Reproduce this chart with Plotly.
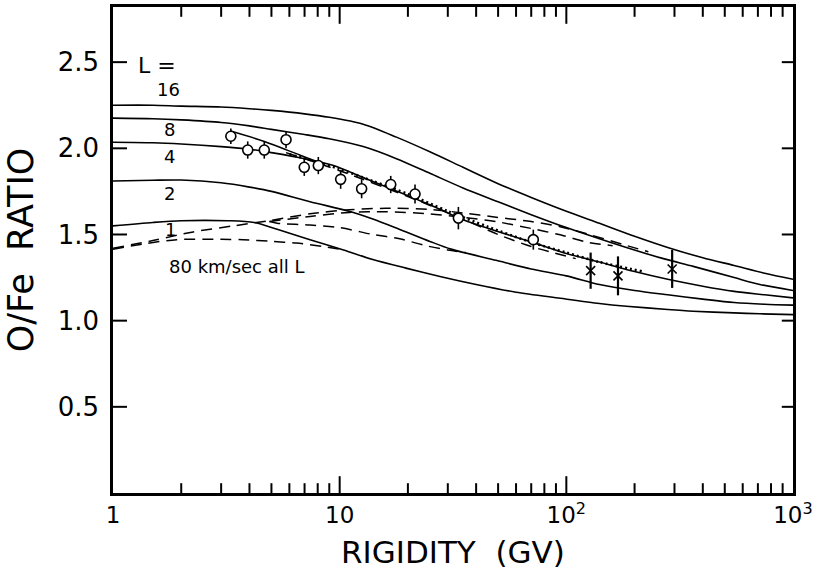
import math
import plotly.graph_objects as go

# ---------------- data ----------------
L16_x = [1, 1.5, 2, 3, 4, 5, 7, 9, 12.7, 17.8, 25, 35, 50, 70, 100, 140, 200, 280, 400, 550, 750, 1000]
L16_y = [2.25, 2.25, 2.245, 2.24, 2.23, 2.22, 2.20, 2.18, 2.14, 2.065, 1.98, 1.89, 1.795, 1.715, 1.635, 1.565, 1.49, 1.425, 1.365, 1.32, 1.275, 1.24]

L8_x = [1, 1.5, 2, 3, 4, 5, 7, 9, 12.7, 17.8, 25, 35, 50, 70, 100, 140, 184, 268, 363, 550, 714, 1000]
L8_y = [2.175, 2.172, 2.165, 2.15, 2.13, 2.11, 2.08, 2.055, 2.01, 1.94, 1.855, 1.77, 1.69, 1.615, 1.54, 1.475, 1.425, 1.36, 1.315, 1.25, 1.21, 1.175]

L4_x = [1, 1.5, 2, 3, 4, 5, 7, 9.4, 13, 18, 25, 35, 49, 69, 100, 140, 200, 280, 400, 550, 750, 1000]
L4_y = [2.035, 2.032, 2.025, 2.01, 1.995, 1.975, 1.94, 1.90, 1.825, 1.75, 1.672, 1.585, 1.52, 1.46, 1.39, 1.34, 1.285, 1.24, 1.20, 1.17, 1.15, 1.132]

L2_x = [1, 1.5, 2, 3, 4, 5, 7.4, 11, 14, 18, 25, 31, 49, 70, 100, 140, 200, 280, 400, 550, 750, 1000]
L2_y = [1.81, 1.815, 1.816, 1.80, 1.775, 1.75, 1.69, 1.635, 1.59, 1.535, 1.46, 1.415, 1.35, 1.30, 1.26, 1.21, 1.175, 1.15, 1.125, 1.105, 1.095, 1.09]

L1_x = [1, 1.5, 2, 3.2, 4.2, 5.3, 7.4, 10.4, 14, 19.6, 28, 40, 60, 94, 140, 184, 280, 363, 550, 714, 1000]
L1_y = [1.55, 1.57, 1.58, 1.58, 1.57, 1.53, 1.47, 1.41, 1.355, 1.305, 1.255, 1.21, 1.165, 1.13, 1.10, 1.084, 1.065, 1.055, 1.045, 1.04, 1.035]

fit_x = [3.3, 4.65, 6.7, 8.0]
fit_y = [2.10, 2.04, 1.96, 1.92]

dot_x = [6, 8, 10, 14, 20, 30, 45, 70, 100, 140, 218]
dot_y = [1.965, 1.92, 1.88, 1.81, 1.735, 1.635, 1.545, 1.455, 1.395, 1.34, 1.285]

dashA_x = [1, 1.5, 2.26, 3.4, 4.9, 7.4, 11, 16, 25, 35, 49, 70, 94, 126, 180, 230]
dashA_y = [1.42, 1.465, 1.515, 1.55, 1.58, 1.62, 1.643, 1.652, 1.645, 1.625, 1.60, 1.575, 1.545, 1.50, 1.44, 1.40]

dashB_x = [4.9, 7.4, 11, 16, 25, 35, 49, 70, 94, 124, 160]
dashB_y = [1.575, 1.605, 1.628, 1.632, 1.62, 1.60, 1.575, 1.535, 1.498, 1.455, 1.435]

dashC_x = [4.9, 5.3, 7.4, 10, 14, 18.4, 24, 30, 36]
dashC_y = [1.575, 1.565, 1.555, 1.54, 1.50, 1.475, 1.435, 1.41, 1.395]

dashD_x = [5.8, 10, 20, 35, 50, 70, 110]
dashD_y = [1.975, 1.87, 1.72, 1.59, 1.50, 1.43, 1.36]

v80_x = [1, 1.36, 1.91, 3.0, 3.75, 5.0, 6.45, 8.5, 10.4]
v80_y = [1.415, 1.445, 1.47, 1.472, 1.47, 1.46, 1.45, 1.43, 1.41]

circ_x = [3.31, 3.93, 4.65, 5.80, 6.98, 8.05, 10.1, 12.5, 16.8, 21.5, 33.4, 71.5]
circ_y = [2.07, 1.99, 1.99, 2.05, 1.89, 1.90, 1.82, 1.765, 1.79, 1.735, 1.595, 1.47]
circ_err = [0.045, 0.05, 0.05, 0.05, 0.05, 0.05, 0.055, 0.055, 0.05, 0.055, 0.065, 0.058]

cross_x = [128, 169, 293]
cross_y = [1.29, 1.26, 1.30]
cross_err = [0.105, 0.113, 0.11]

x_range = [1, 1000]
y_range = [0, 2.82]
xtick_vals = [1, 10, 100, 1000]
xtick_text = ["1", "10", "10<sup>2</sup>", "10<sup>3</sup>"]
ytick_vals = [0.5, 1.0, 1.5, 2.0, 2.5]
ytick_text = ["0.5", "1.0", "1.5", "2.0", "2.5"]
xminor_vals = [m * d for d in (1, 10, 100) for m in range(2, 10)]

curve_labels = [("L =", 1.56, 2.48, 22), ("16", 1.75, 2.34, 18), ("8", 1.78, 2.11, 18),
                ("4", 1.78, 1.955, 18), ("2", 1.78, 1.735, 18), ("1", 1.80, 1.53, 18),
                ("80 km/sec all L", 3.52, 1.315, 18)]

FONT = "DejaVu Sans"

fig = go.Figure()


def add_line(x, y, dash="solid", width=1.6):
    fig.add_trace(go.Scatter(x=x, y=y, mode="lines", hoverinfo="skip", showlegend=False,
                             line=dict(color="black", width=width, dash=dash, shape="spline",
                                       smoothing=0.8)))


for xs, ys in [(L16_x, L16_y), (L8_x, L8_y), (L4_x, L4_y), (L2_x, L2_y), (L1_x, L1_y), (fit_x, fit_y)]:
    add_line(xs, ys)

for xs, ys in [(dashA_x, dashA_y), (dashB_x, dashB_y), (dashC_x, dashC_y), (dashD_x, dashD_y), (v80_x, v80_y)]:
    add_line(xs, ys, dash="11px,7px", width=1.5)

add_line(dot_x, dot_y, dash="2px,3px", width=2.6)

fig.add_trace(go.Scatter(
    x=circ_x, y=circ_y, mode="markers", showlegend=False, hoverinfo="skip",
    marker=dict(symbol="circle", size=10, color="white", line=dict(color="black", width=1.6)),
    error_y=dict(type="data", array=circ_err, color="black", thickness=1.6, width=0)))

fig.add_trace(go.Scatter(
    x=cross_x, y=cross_y, mode="markers", showlegend=False, hoverinfo="skip",
    marker=dict(symbol="x-thin", size=9, color="black", line=dict(color="black", width=1.6)),
    error_y=dict(type="data", array=cross_err, color="black", thickness=2.2, width=0)))

for text, x, y, sz in curve_labels:
    fig.add_annotation(x=math.log10(x), y=y, text=text, showarrow=False,
                       font=dict(family=FONT, size=sz, color="black"))


# inward tick marks: line markers centred on the frame, half clipped away by the plot area
def tick_marks(xs, ys, symbol, size):
    fig.add_trace(go.Scatter(x=xs, y=ys, mode="markers", showlegend=False, hoverinfo="skip",
                             cliponaxis=True,
                             marker=dict(symbol=symbol, size=size, color="black",
                                         line=dict(color="black", width=2))))


major_inner = xtick_vals[1:-1]
for yedge in y_range:
    tick_marks(major_inner, [yedge] * len(major_inner), "line-ns", 24)
    tick_marks(xminor_vals, [yedge] * len(xminor_vals), "line-ns", 14)
tick_marks([x_range[0]] * len(ytick_vals), ytick_vals, "line-ew", 20)
tick_marks([x_range[1]] * len(ytick_vals), ytick_vals, "line-ew", 16)

fig.update_layout(
    template="none",
    width=827, height=577,
    margin=dict(l=113, r=34, t=7, b=84),
    paper_bgcolor="white", plot_bgcolor="white",
    font=dict(family=FONT, color="black"),
    xaxis=dict(type="log", range=[math.log10(x_range[0]), math.log10(x_range[1])],
               showgrid=False, zeroline=False,
               showline=True, linecolor="black", linewidth=2.5, mirror=True,
               ticks="", tickvals=xtick_vals, ticktext=xtick_text,
               tickfont=dict(family=FONT, size=23),
               title=dict(text="RIGIDITY  (GV)", font=dict(family=FONT, size=31), standoff=14)),
    yaxis=dict(range=y_range, showgrid=False, zeroline=False,
               showline=True, linecolor="black", linewidth=2.5, mirror=True,
               ticks="", tickvals=ytick_vals, ticktext=ytick_text, ticklabelstandoff=6,
               tickfont=dict(family=FONT, size=26),
               title=dict(text="O/Fe  RATIO", font=dict(family=FONT, size=35), standoff=14)),
)

fig.write_html("out.html")
